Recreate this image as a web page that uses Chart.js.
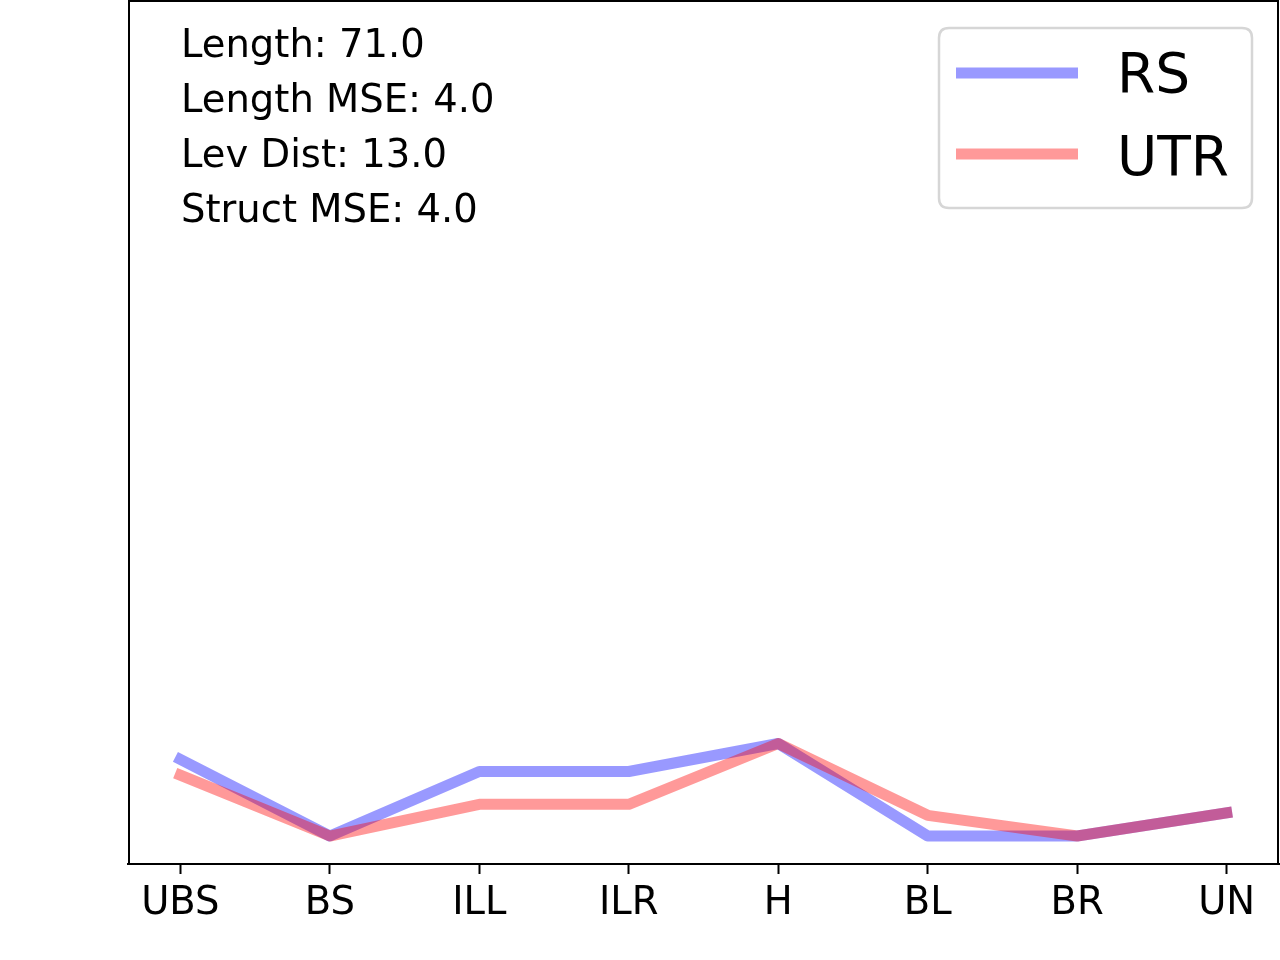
<!DOCTYPE html>
<html>
<head>
<meta charset="utf-8">
<script src="https://cdn.jsdelivr.net/npm/chart.js@4/dist/chart.umd.min.js"></script>
<style>
html,body{margin:0;padding:0;background:#fff}
canvas{display:block}
</style>
</head>
<body>
<canvas id="chart" width="1280" height="960"></canvas>
<script>
/* ── data ── */
const categories=['UBS','BS','ILL','ILR','H','BL','BR','UN'];
const rsValues=[8.6,2.3,7.6,7.6,9.9,2.3,2.3,4.2];
const utrValues=[7.3,2.3,4.9,4.9,9.9,4.0,2.3,4.2];
const statLines=['Length: 71.0','Length MSE: 4.0','Lev Dist: 13.0','Struct MSE: 4.0'];
const yMax=71;

const FONT='"DejaVu Sans", sans-serif';

function toPoints(vals){return vals.map(function(v,i){return {x:i,y:v}})}

/* frame + stats text + legend, matplotlib style */
const decor={
  id:'decor',
  afterDatasetsDraw(chart){
    const ctx=chart.ctx, a=chart.chartArea;
    ctx.save();
    // spines
    ctx.strokeStyle='#000';ctx.lineWidth=2;
    ctx.strokeRect(a.left+1,a.top+1,a.right-a.left-2,a.bottom-a.top-1);
    // stats text
    ctx.fillStyle='#000';ctx.font='38.5px '+FONT;ctx.textBaseline='alphabetic';ctx.textAlign='left';
    statLines.forEach(function(t,i){ctx.fillText(t,181,57+i*55)});
    // legend box
    const bx=939,by=28,bw=313,bh=180,r=10;
    ctx.beginPath();
    ctx.moveTo(bx+r,by);ctx.lineTo(bx+bw-r,by);ctx.quadraticCurveTo(bx+bw,by,bx+bw,by+r);
    ctx.lineTo(bx+bw,by+bh-r);ctx.quadraticCurveTo(bx+bw,by+bh,bx+bw-r,by+bh);
    ctx.lineTo(bx+r,by+bh);ctx.quadraticCurveTo(bx,by+bh,bx,by+bh-r);
    ctx.lineTo(bx,by+r);ctx.quadraticCurveTo(bx,by,bx+r,by);ctx.closePath();
    ctx.fillStyle='rgba(255,255,255,0.8)';ctx.fill();
    ctx.strokeStyle='#d6d6d6';ctx.lineWidth=2.5;ctx.stroke();
    ctx.font='55px '+FONT;
    chart.data.datasets.forEach(function(ds,i){
      const ly=73+i*81;
      ctx.strokeStyle=ds.borderColor;ctx.lineWidth=11;ctx.lineCap='butt';
      ctx.beginPath();ctx.moveTo(956,ly);ctx.lineTo(1078,ly);ctx.stroke();
      ctx.fillStyle='#000';
      ctx.fillText(ds.label,1117,92+i*83);
    });
    ctx.restore();
  }
};

new Chart(document.getElementById('chart'),{
  type:'line',
  data:{datasets:[
    {label:'RS',data:toPoints(rsValues),borderColor:'rgba(0,0,255,0.4)',borderWidth:11,pointRadius:0,tension:0,fill:false,borderCapStyle:'square',borderJoinStyle:'round',order:2},
    {label:'UTR',data:toPoints(utrValues),borderColor:'rgba(255,0,0,0.4)',borderWidth:11,pointRadius:0,tension:0,fill:false,borderCapStyle:'square',borderJoinStyle:'round',order:1}
  ]},
  options:{
    responsive:false,devicePixelRatio:1,animation:false,
    layout:{padding:{left:128,right:1,top:0,bottom:0}},
    plugins:{legend:{display:false},tooltip:{enabled:false}},
    scales:{
      x:{
        type:'linear',min:-0.35,max:categories.length-1+0.35,
        afterBuildTicks:function(s){s.ticks=categories.map(function(c,i){return {value:i}})},
        afterFit:function(s){s.height=96},
        ticks:{autoSkip:false,maxRotation:0,padding:7,color:'#000',font:{family:FONT,size:38.5},
          callback:function(v){return categories[v]}},
        grid:{drawOnChartArea:false,drawTicks:true,tickLength:10,tickWidth:2,tickColor:'#000'},
        border:{display:true,color:'#000',width:2}
      },
      y:{display:false,min:0,max:yMax}
    }
  },
  plugins:[decor]
});
</script>
</body>
</html>
